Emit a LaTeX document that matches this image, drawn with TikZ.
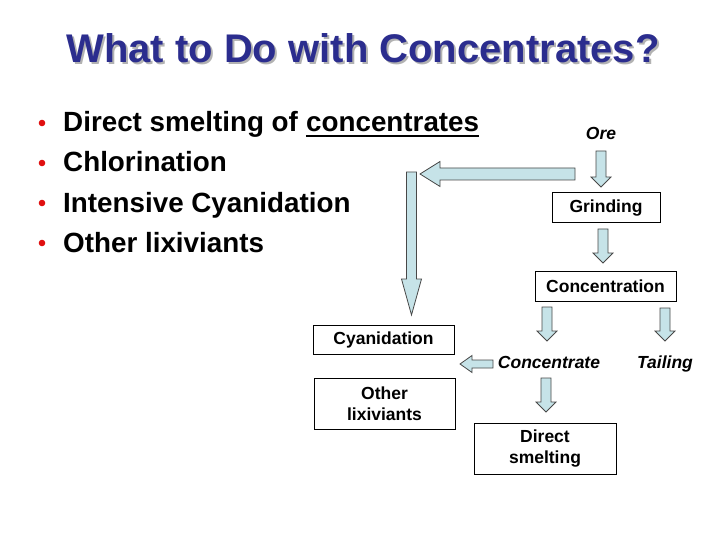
\documentclass[tikz,border=0pt]{standalone}
\usepackage{fontspec}
\setmainfont{Liberation Sans}
\usetikzlibrary{calc}
\definecolor{titleblue}{HTML}{2B2D8E}
\definecolor{arrowfill}{HTML}{C6E3E8}
\definecolor{arrowline}{HTML}{484848}
\definecolor{bulletred}{HTML}{E01010}
\newcommand\bdarrow[5]{% top, tip, shaft half, head half, head length
  \draw[blockarrow] ($(#1)+(-#3,0)$) -- ($(#2)+(-#3,-#5)$) -- ($(#2)+(-#4,-#5)$) -- (#2)
    -- ($(#2)+(#4,-#5)$) -- ($(#2)+(#3,-#5)$) -- ($(#1)+(#3,0)$) -- cycle;}
\newcommand\blarrow[5]{% right end, tip, shaft half, head half, head length
  \draw[blockarrow] ($(#1)+(0,-#3)$) -- ($(#2)+(#5,-#3)$) -- ($(#2)+(#5,-#4)$) -- (#2)
    -- ($(#2)+(#5,#4)$) -- ($(#2)+(#5,#3)$) -- ($(#1)+(0,#3)$) -- cycle;}
\begin{document}
\begin{tikzpicture}[x=1pt,y=-1pt,
  blockarrow/.style={fill=arrowfill,draw=arrowline,line width=0.8pt,line join=miter},
  bul/.style={inner sep=0pt,font=\fontsize{27.8}{33}\selectfont\bfseries,anchor=base west},
  box/.style={draw=black,line width=1pt,fill=white,inner sep=2pt,align=center,
    font=\fontsize{17.5}{21}\selectfont\bfseries},
  itl/.style={inner sep=0pt,font=\fontsize{17.5}{21}\selectfont\bfseries\itshape,anchor=base}]
\useasboundingbox (0,0) rectangle (720,540);
% title
\node[text=black!30,font=\fontsize{40}{48}\selectfont\bfseries] at (365,50) {What to Do with Concentrates?};
\node[text=titleblue,font=\fontsize{40}{48}\selectfont\bfseries] (title) at (363,48) {What to Do with Concentrates?};
% bullets
\foreach \yy in {123,163,203,243} \fill[bulletred] (42,\yy) circle (3.3);
\node[bul] (b1) at (63,132) {Direct smelting of\kern0.278em};
\node[bul] (b1u) at (b1.base east) {concentrates};
\draw[line width=2pt] ($(b1u.base west)+(0,4)$) -- ($(b1u.base east)+(0,4)$);
\node[bul] (b2) at (63,172) {Chlorination};
\node[bul] (b3) at (63,212) {Intensive Cyanidation};
\node[bul] (b4) at (63,252) {Other lixiviants};
% flow
\node[itl] (ore) at (601,140) {Ore};
\node[box,minimum width=108,minimum height=30] (grind) at (606,208) {Grinding};
\node[box,minimum width=141,minimum height=30] (concn) at (605.5,286) {Concentration};
\node[itl] (conc) at (549,368) {Concentrate};
\node[itl] (tail) at (665,368) {Tailing};
\node[box,minimum width=141,minimum height=29] (cyan) at (383.5,339.5) {Cyanidation};
\node[box,minimum width=141,minimum height=51] (other) at (384.5,403.5) {Other\\lixiviants};
\node[box,minimum width=142,minimum height=51] (ds) at (545,448.5) {Direct\\smelting};
% arrow end points
\coordinate (a1t) at (601,151); \coordinate (a1h) at (601,187);
\coordinate (a2t) at (603,229); \coordinate (a2h) at (603,263);
\coordinate (a3t) at (547,307); \coordinate (a3h) at (547,341);
\coordinate (a4t) at (665,308); \coordinate (a4h) at (665,341);
\coordinate (a5t) at (546,378); \coordinate (a5h) at (546,412);
\coordinate (a6t) at (493,364); \coordinate (a6h) at (460,364);
\coordinate (a7t) at (575,174); \coordinate (a7h) at (420,174);
\coordinate (a8t) at (411.5,172); \coordinate (a8h) at (411.5,315);
\bdarrow{a1t}{a1h}{5}{10}{10}
\bdarrow{a2t}{a2h}{5}{10}{10}
\bdarrow{a3t}{a3h}{5}{10}{10}
\bdarrow{a4t}{a4h}{5}{10}{10}
\bdarrow{a5t}{a5h}{5}{10}{10}
\blarrow{a6t}{a6h}{4}{8.5}{12}
\blarrow{a7t}{a7h}{6}{12.5}{20}
\bdarrow{a8t}{a8h}{5}{10}{36}
\end{tikzpicture}
\end{document}
